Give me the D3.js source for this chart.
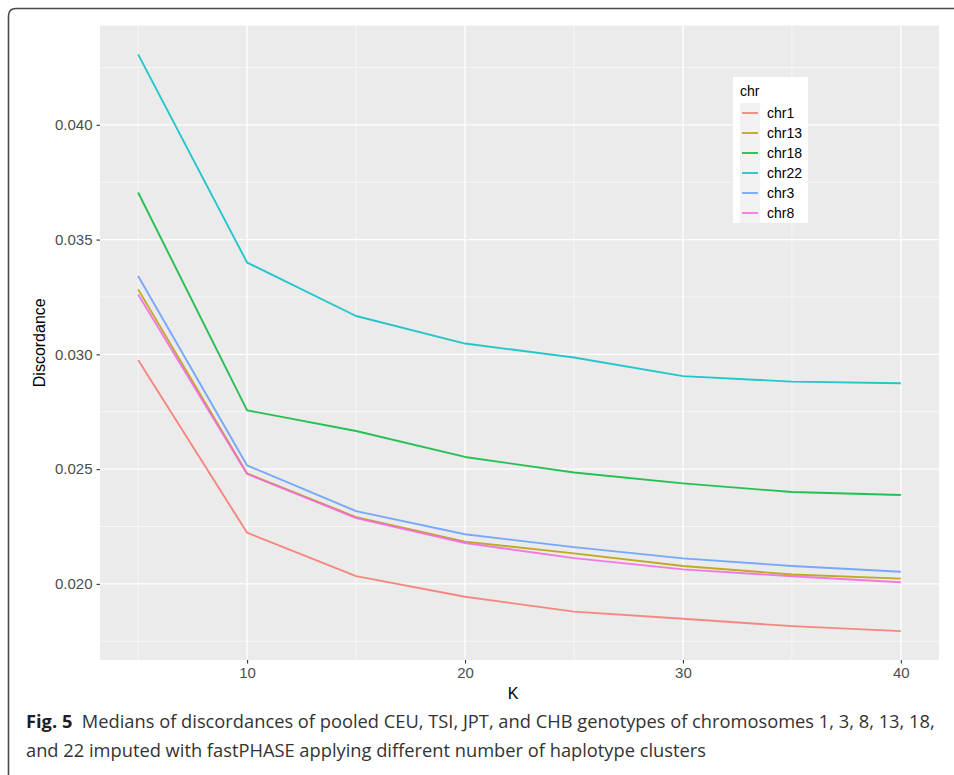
<!DOCTYPE html>
<html>
<head>
<meta charset="utf-8">
<script src="https://cdn.jsdelivr.net/npm/d3@7"></script>
<style>
html,body{margin:0;padding:0;background:#fff;}
svg{display:block;}
</style>
</head>
<body>
<svg id="chart" width="954" height="775"></svg>
<script>
// ---- data ----
const kValues = [5, 10, 15, 20, 25, 30, 35, 40];
const seriesNames = ["chr1", "chr13", "chr18", "chr22", "chr3", "chr8"];
const chr1  = [0.02975, 0.02223, 0.02034, 0.01944, 0.01879, 0.01848, 0.01816, 0.01794];
const chr13 = [0.03283, 0.02481, 0.02291, 0.02184, 0.02133, 0.02078, 0.02041, 0.02023];
const chr18 = [0.03705, 0.02756, 0.02666, 0.02553, 0.02485, 0.02438, 0.02400, 0.02387];
const chr22 = [0.04307, 0.03400, 0.03167, 0.03047, 0.02986, 0.02905, 0.02881, 0.02874];
const chr3  = [0.03341, 0.02516, 0.02317, 0.02216, 0.02160, 0.02111, 0.02078, 0.02053];
const chr8  = [0.03261, 0.02479, 0.02287, 0.02178, 0.02112, 0.02063, 0.02033, 0.02007];
const xTicks = [10, 20, 30, 40];
const xMinorTicks = [5, 15, 25, 35];
const yTicks = [0.020, 0.025, 0.030, 0.035, 0.040];
const yMinorTicks = [0.0175, 0.0225, 0.0275, 0.0325, 0.0375, 0.0425];
const seriesColors = ["#F8766D", "#B79F00", "#00BA38", "#00BFC4", "#619CFF", "#F564E3"];
const captionBold = "Fig. 5";
const captionLine1 = "Medians of discordances of pooled CEU, TSI, JPT, and CHB genotypes of chromosomes 1, 3, 8, 13, 18,";
const captionLine2 = "and 22 imputed with fastPHASE applying different number of haplotype clusters";

const seriesValues = [chr1, chr13, chr18, chr22, chr3, chr8];
const series = seriesNames.map((name, i) => ({
  name, color: seriesColors[i],
  points: kValues.map((k, j) => ({k, v: seriesValues[i][j]}))
}));

// ---- layout ----
const svg = d3.select("#chart");
const panel = {left: 100, right: 939, top: 25.5, bottom: 660};

const xExt = d3.extent(kValues);
const xPad = (xExt[1] - xExt[0]) * 0.05;
const allV = seriesValues.flat();
const yExt = d3.extent(allV);
const yPad = (yExt[1] - yExt[0]) * 0.05;

const x = d3.scaleLinear().domain([xExt[0] - xPad, xExt[1] + xPad]).range([panel.left, panel.right]);
const y = d3.scaleLinear().domain([yExt[0] - yPad, yExt[1] + yPad]).range([panel.bottom, panel.top]);

// frame border
svg.append("path")
  .attr("d", `M8.5,775 L8.5,16 Q8.5,8.5 16,8.5 L954,8.5`)
  .attr("fill", "none").attr("stroke", "#4a4a4a").attr("stroke-width", 1.6);

// panel background
svg.append("rect")
  .attr("x", panel.left).attr("y", panel.top)
  .attr("width", panel.right - panel.left).attr("height", panel.bottom - panel.top)
  .attr("fill", "#ebebeb");

const grid = svg.append("g");
grid.selectAll("line.ymin").data(yMinorTicks).join("line")
  .attr("x1", panel.left).attr("x2", panel.right)
  .attr("y1", d => y(d)).attr("y2", d => y(d))
  .attr("stroke", "#fff").attr("stroke-width", 0.6);
grid.selectAll("line.xmin").data(xMinorTicks).join("line")
  .attr("y1", panel.top).attr("y2", panel.bottom)
  .attr("x1", d => x(d)).attr("x2", d => x(d))
  .attr("stroke", "#fff").attr("stroke-width", 0.6);
grid.selectAll("line.ymaj").data(yTicks).join("line")
  .attr("x1", panel.left).attr("x2", panel.right)
  .attr("y1", d => y(d)).attr("y2", d => y(d))
  .attr("stroke", "#fff").attr("stroke-width", 1.3);
grid.selectAll("line.xmaj").data(xTicks).join("line")
  .attr("y1", panel.top).attr("y2", panel.bottom)
  .attr("x1", d => x(d)).attr("x2", d => x(d))
  .attr("stroke", "#fff").attr("stroke-width", 1.3);

// lines
const line = d3.line().x(d => x(d.k)).y(d => y(d.v));
svg.append("g").selectAll("path").data(series).join("path")
  .attr("d", d => line(d.points))
  .attr("fill", "none")
  .attr("stroke", d => d.color)
  .attr("stroke-width", 1.9)
  .attr("stroke-opacity", 0.85)
  .attr("stroke-linejoin", "round");

// axes
const axisFont = "'Liberation Sans', Arial, Helvetica, sans-serif";
const xAxis = svg.append("g").attr("transform", `translate(0,${panel.bottom})`)
  .call(d3.axisBottom(x).tickValues(xTicks).tickSize(3.5).tickPadding(4).tickFormat(d3.format("d")));
xAxis.select(".domain").remove();
xAxis.selectAll(".tick line").attr("stroke", "#333").attr("stroke-width", 1.1);
xAxis.selectAll(".tick text").attr("fill", "#4d4d4d").style("font-family", axisFont).style("font-size", "15px");

const yAxis = svg.append("g").attr("transform", `translate(${panel.left},0)`)
  .call(d3.axisLeft(y).tickValues(yTicks).tickSize(3.5).tickPadding(4).tickFormat(d3.format(".3f")));
yAxis.select(".domain").remove();
yAxis.selectAll(".tick line").attr("stroke", "#333").attr("stroke-width", 1.1);
yAxis.selectAll(".tick text").attr("fill", "#4d4d4d").style("font-family", axisFont).style("font-size", "15px");

// axis titles
svg.append("text").text("K")
  .attr("x", 513).attr("y", 699)
  .attr("text-anchor", "middle")
  .style("font-family", axisFont).style("font-size", "16px").attr("fill", "#000");
svg.append("text").text("Discordance")
  .attr("transform", `translate(45,${(panel.top + panel.bottom) / 2}) rotate(-90)`)
  .attr("text-anchor", "middle")
  .style("font-family", axisFont).style("font-size", "16px").attr("fill", "#000");

// legend
const lg = svg.append("g").attr("transform", "translate(733,77)");
lg.append("rect").attr("width", 75).attr("height", 146).attr("fill", "#fff");
lg.append("text").text("chr").attr("x", 7).attr("y", 19)
  .style("font-family", axisFont).style("font-size", "14px").attr("fill", "#000");
const items = lg.selectAll("g.item").data(series).join("g")
  .attr("transform", (d, i) => `translate(7,${26 + i * 20})`);
items.append("rect").attr("width", 20).attr("height", 20).attr("fill", "#f2f2f2");
items.append("line").attr("x1", 2).attr("x2", 18).attr("y1", 10).attr("y2", 10)
  .attr("stroke", d => d.color).attr("stroke-width", 1.9).attr("stroke-opacity", 0.85);
items.append("text").text(d => d.name).attr("x", 27).attr("y", 15)
  .style("font-family", axisFont).style("font-size", "14px").attr("fill", "#000");

// caption
const capFont = "'Open Sans', 'Noto Sans', sans-serif";
const cap1 = svg.append("text").attr("x", 26).attr("y", 728)
  .style("font-family", capFont).style("font-size", "18.3px").attr("fill", "#333");
cap1.append("tspan").text(captionBold).style("font-weight", "bold").attr("fill", "#231f20");
cap1.append("tspan").text("\u00a0\u00a0" + captionLine1);
svg.append("text").attr("x", 26).attr("y", 757)
  .style("font-family", capFont).style("font-size", "18.3px").attr("fill", "#333")
  .text(captionLine2);
</script>
</body>
</html>
